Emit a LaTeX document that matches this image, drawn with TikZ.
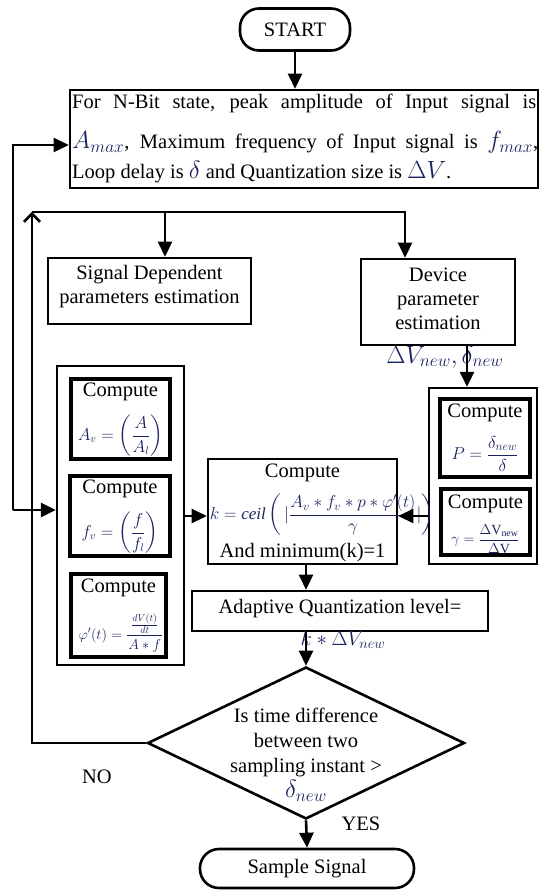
\documentclass[tikz,border=0pt]{standalone}
\usepackage{amsmath}
\usepackage{fontspec}
\setmainfont{Liberation Serif}
\usetikzlibrary{arrows.meta,shapes.geometric}
\definecolor{mathc}{RGB}{25,35,95}
\newcommand{\mth}[2][18]{{\fontsize{#1}{#1}\selectfont\textcolor{mathc}{$#2$}}}
\newcommand{\bigmth}[1]{{\fontsize{24}{24}\selectfont\textcolor{mathc}{$#1$}}}
\begin{document}
\begin{tikzpicture}[x=1pt,y=-1pt,
  txt/.style={font=\fontsize{20.5}{24}\selectfont, inner sep=0pt, align=center},
  box/.style={draw, line width=2.6pt, inner sep=0pt},
  ibox/.style={draw, line width=3.2pt, inner sep=0pt},
  grp/.style={draw, line width=2.4pt, inner sep=0pt},
  term/.style={draw, line width=2.6pt, rounded corners=19pt, inner sep=0pt, font=\fontsize{20.5}{24}\selectfont},
  arr/.style={line width=2.6pt, -{Triangle[length=15pt,width=14pt]}},
  barb/.style={line width=2.6pt, -{Straight Barb[length=8pt,width=16pt]}},
  ln/.style={line width=2.6pt},
]
\useasboundingbox (0,0) rectangle (539,890);

% boxes
\node[term, minimum width=110, minimum height=42] (start) at (295,29.5) {START};
\node[box, minimum width=468, minimum height=98] (b1) at (304,139) {};
\node[box, minimum width=203, minimum height=66] (sig) at (149.5,291) {};
\node[box, minimum width=154, minimum height=86] (dev) at (438,302) {};
\node[grp, minimum width=127, minimum height=299] (lg) at (120.5,515.5) {};
\node[ibox, minimum width=99, minimum height=80] (ba) at (120.5,419) {};
\node[ibox, minimum width=100, minimum height=80] (bf) at (120,516) {};
\node[ibox, minimum width=95, minimum height=83] (bph) at (118.5,615.5) {};
\node[box, minimum width=189, minimum height=105] (kb) at (302.5,511.5) {};
\node[grp, minimum width=108, minimum height=176] (rg) at (483,476) {};
\node[ibox, minimum width=90, minimum height=78] (bP) at (485,438) {};
\node[ibox, minimum width=89, minimum height=66] (bg) at (485.5,522) {};
\node[box, minimum width=296, minimum height=40] (aq) at (340,611) {};
\node[diamond, draw, line width=2.6pt, minimum width=317, minimum height=152, inner sep=0pt] (dec) at (306,743) {};
\node[term, minimum width=214, minimum height=39] (ss) at (307,868.5) {Sample Signal};

% texts
\node[txt, anchor=base west] (t1) at (72,109) {\makebox[464pt][s]{For N-Bit state, peak amplitude of Input signal is}};
\node[txt, anchor=base west] (t2) at (72,149) {\makebox[466pt][s]{\bigmth{A_{max}}, Maximum frequency of Input signal is \bigmth{f_{max}},}};
\node[txt, anchor=base west] (t3) at (72,179) {Loop delay is \bigmth{\delta} and Quantization size is \bigmth{\Delta V}.};
\node[txt] (tsig) at (149.5,287) {Signal Dependent\\parameters estimation};
\node[txt] (tdev) at (438,299) {Device\\parameter\\estimation};
\node[txt] (tdv) at (445,357) {\bigmth{\Delta V_{new},\delta_{new}}};

\node[txt] (ca) at (120.5,392) {Compute};
\node[txt] (fa) at (120.5,436) {\mth[16]{A_v=\left(\dfrac{A}{A_l}\right)}};
\node[txt] (cf) at (120,489) {Compute};
\node[txt] (ff) at (120,533) {\mth[16]{f_v=\left(\dfrac{f}{f_l}\right)}};
\node[txt] (cph) at (118.5,588) {Compute};
\node[txt] (fph) at (121,633) {\mth[14]{\varphi'(t)=\dfrac{\;\frac{dV(t)}{dt}\;}{A*f}}};

\node[txt] (ck) at (302.5,473) {Compute};
\node[txt] (fk) at (322,515) {\mth[17]{k=\mathit{ceil}\left(\,|\dfrac{A_v*f_v*p*\varphi'(t)}{\gamma}|\right)}};
\node[txt] (mk) at (302.5,553) {And minimum(k)=1};

\node[txt] (cP) at (485,413) {Compute};
\node[txt] (fP) at (485,454) {\mth[17]{P=\dfrac{\delta_{new}}{\delta}}};
\node[txt] (cg) at (485.5,504) {Compute};
\node[txt] (fg) at (485.5,539) {\mth[14]{\gamma=\dfrac{\Delta\mathrm{V}_{\mathrm{new}}}{\Delta\mathrm{V}}}};

\node[txt] (taq) at (340,609) {Adaptive Quantization level=};
\node[txt] (taq2) at (343,640) {\mth[20]{k*\Delta V_{new}}};

\node[txt, font=\fontsize{20.5}{25}\selectfont] (tdec) at (306,755) {Is time difference\\between two\\sampling instant >\\\bigmth{\delta_{new}}};
\node[txt] (no) at (97,777) {NO};
\node[txt] (yes) at (361,824) {YES};

% coordinates
\coordinate (o1) at (13,145);
\coordinate (o2) at (13,510);
\coordinate (i2) at (32,212);
\coordinate (i3) at (405,212);
\coordinate (j1) at (165,212);
\coordinate (j2) at (467,345);
\coordinate (j3) at (429,516);
\coordinate (j4) at (306,564);

% connectors
\draw[arr] (start.south) -- (start.south |- b1.north);
\draw[arr] (o2) -- (o1) -- (b1.west |- o1);
\draw[arr] (o2) -- (lg.west |- o2);
\draw[barb] (dec.west) -| (i2);
\draw[arr] (i2) -- (i3) -- (i3 |- dev.north);
\draw[arr] (j1) -- (j1 |- sig.north);
\draw[arr] (j2) -- (j2 |- rg.north);
\draw[arr] (j3) -- (kb.east |- j3);
\draw[arr] (lg.east |- j3) -- (kb.west |- j3);
\draw[arr] (j4) -- (j4 |- aq.north);
\draw[arr] (aq.south -| dec.north) -- (dec.north);
\draw[arr] (dec.south) -- (ss.north);
\end{tikzpicture}
\end{document}
